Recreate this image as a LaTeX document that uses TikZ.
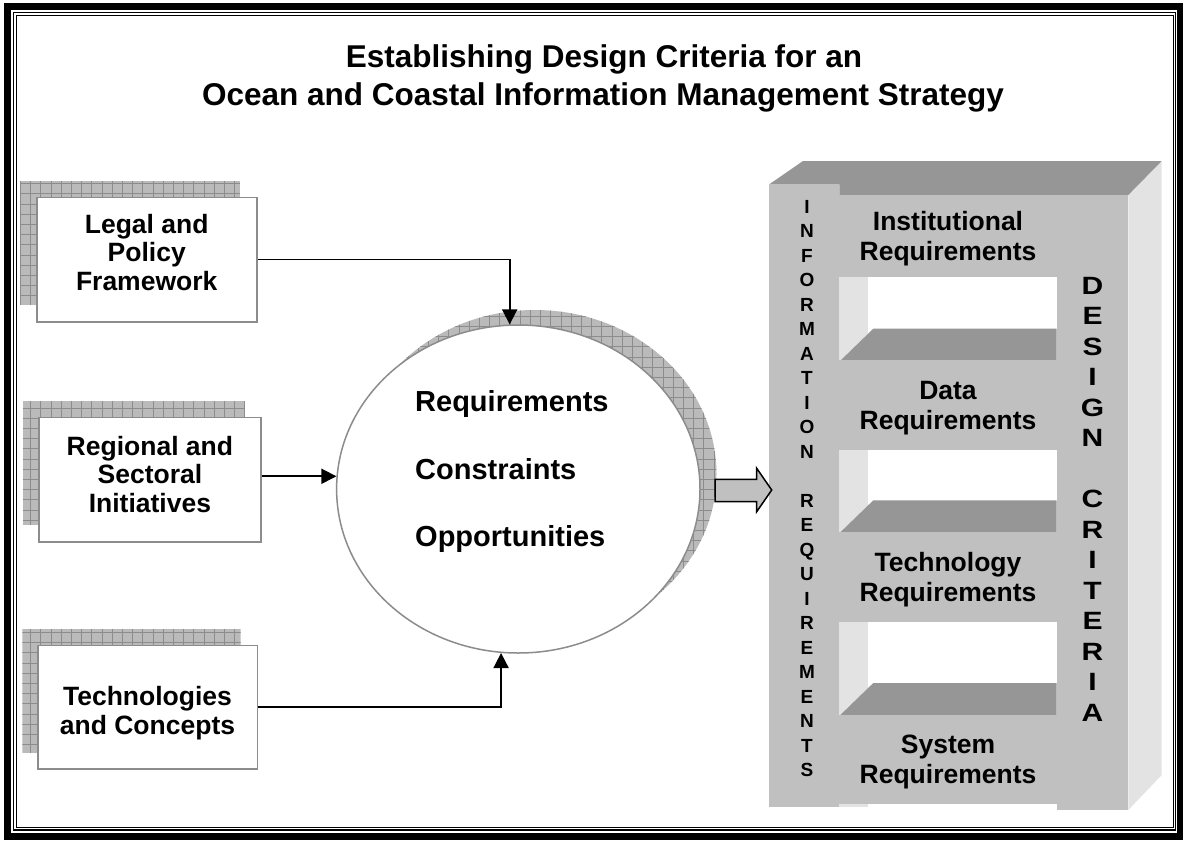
\documentclass[tikz,border=0pt]{standalone}
\usepackage{fontspec}
\setmainfont{Liberation Sans}
\usetikzlibrary{arrows.meta,shapes.geometric}
\definecolor{frontc}{RGB}{192,192,192}
\definecolor{topc}{RGB}{150,150,150}
\definecolor{sidec}{RGB}{227,227,227}
\definecolor{shadc}{RGB}{186,186,186}
\definecolor{shadline}{RGB}{140,140,140}
\definecolor{edgec}{RGB}{140,140,140}
\newcommand\gridfill[4]{%
    \fill[shadc] (#1,#2) rectangle (#3,#4);
    \foreach \g in {0,10.2,...,1190}{\draw[shadline, line width=0.7pt] (\g,#2) -- (\g,#4);}
    \foreach \g in {0,10.2,...,850}{\draw[shadline, line width=0.7pt] (#1,\g) -- (#3,\g);}}
\newcommand\mkshadow[4]{%
  \begin{scope}
    \clip (#1,#2) rectangle (#3,#4);
    \gridfill{#1}{#2}{#3}{#4}
  \end{scope}}
\begin{document}
\begin{tikzpicture}[x=1pt,y=-1pt,
  boxstyle/.style={draw=edgec, line width=1.6pt, fill=white, inner sep=0pt},
  boxtext/.style={font=\fontsize{26.5}{28.5}\selectfont\bfseries, align=center, text depth=0pt, inner sep=0pt},
  ovaltext/.style={font=\fontsize{29}{34}\selectfont\bfseries, anchor=base west, inner sep=0pt},
  slab/.style={fill=frontc, inner sep=0pt, font=\fontsize{26.5}{30}\selectfont\bfseries, align=center, text depth=0pt},
  letterA/.style={font=\fontsize{19}{20}\selectfont\bfseries, anchor=base, inner sep=0pt},
  letterB/.style={font=\fontsize{25}{26}\selectfont\bfseries, anchor=base, inner sep=0pt},
  conn/.style={draw=black, line width=1.8pt, -{Triangle[width=15pt,length=15pt]}},
  titlestyle/.style={font=\fontsize{31.5}{37}\selectfont\bfseries, anchor=base, inner sep=0pt}
]
\useasboundingbox (0,0) rectangle (1183,841);
\fill[white] (0,0) rectangle (1183,841);

% frame
\draw[line width=6.5pt] (7.5,6.7) rectangle (1180.5,836.5);
\draw[line width=1.2pt] (13.8,12.8) rectangle (1175.5,830);
\draw[line width=1pt] (16.3,15.5) rectangle (1173,827.3);

% title
\node[titlestyle] (title1) at (604,67.7) {Establishing Design Criteria for an};
\node[titlestyle] (title2) at (603,105) {Ocean and Coastal Information Management Strategy};

% left boxes with shadows
\mkshadow{20.2}{181}{240.2}{305.3}
\node[boxstyle, minimum width=220, minimum height=124.4] (legal) at (146.7,259.5) {};
\node[boxtext] (legalT) at (146.7,252) {Legal and\\Policy\\Framework};

\mkshadow{22.7}{401}{245}{525}
\node[boxstyle, minimum width=221.7, minimum height=124.4] (regional) at (149.9,479.5) {};
\node[boxtext] (regionalT) at (149.9,474) {Regional and\\Sectoral\\Initiatives};

\mkshadow{22.3}{629.3}{240.7}{752.7}
\node[boxstyle, minimum width=219.6, minimum height=123.3] (tech) at (147.5,707.3) {};
\node[boxtext] (techT) at (147.5,710.3) {Technologies\\and Concepts};

% oval with shadow
\begin{scope}
  \clip (534.8,474) ellipse [x radius=181.7, y radius=164];
  \gridfill{340}{300}{730}{650}
\end{scope}
\node[ellipse, draw=edgec, fill=white, line width=1.5pt, minimum width=363.4, minimum height=328, inner sep=0pt] (circ) at (518.3,489) {};
\node[ovaltext] (o1) at (415,411.7) {Requirements};
\node[ovaltext] (o2) at (415,479.3) {Constraints};
\node[ovaltext] (o3) at (415,546.7) {Opportunities};

% connectors
\draw[conn] (legal.east) -| (circ.93.6);
\draw[conn] (circ.176 -| regional.east) -- (circ.176);
\draw[conn] (tech.east) -| (circ.264.8);

% right structure
\fill[sidec] (1128.3,195) -- (1161.7,161) -- (1161.7,775) -- (1128.3,810) -- cycle;
\fill[topc] (769.3,184.3) -- (803,161) -- (1161.7,161) -- (1128.3,195) -- (839.3,195) -- (839.3,184.3) -- cycle;
\fill[frontc] (769.3,184.3) rectangle (839.3,807.3);
\fill[sidec] (839.3,195) rectangle (868.3,807.3);
\fill[frontc] (1056.7,195) rectangle (1128.3,810);

\foreach \yt in {361.7,533.3,716}{
  \fill[topc] (839.3,\yt) -- (873.3,\yt-33) -- (1056.7,\yt-33) -- (1056.7,\yt) -- cycle;
}
\node[slab, minimum width=217.4, minimum height=81.7] (inst) at (948,235.9) {Institutional\\Requirements};
\node[slab, minimum width=217.4, minimum height=89.3] (data) at (948,405) {Data\\Requirements};
\node[slab, minimum width=217.4, minimum height=90] (techr) at (948,577) {Technology\\Requirements};
\node[slab, minimum width=217.4, minimum height=89] (sysr) at (948,759) {System\\Requirements};

\foreach \l [count=\i from 0] in {I,N,F,O,R,M,A,T,I,O,N}{
  \node[letterA] (inf\i) at (807,213+24.5*\i) {\l};
}
\foreach \l [count=\i from 12] in {R,E,Q,U,I,R,E,M,E,N,T,S}{
  \node[letterA] (inf\i) at (807,213+24.5*\i) {\l};
}
\foreach \l [count=\i from 0] in {D,E,S,I,G,N}{
  \node[letterB] (des\i) at (1092.5,294+30.5*\i) {\scalebox{1.2}[1]{\l}};
}
\foreach \l [count=\i from 7] in {C,R,I,T,E,R,I,A}{
  \node[letterB] (des\i) at (1092.5,294+30.5*\i) {\scalebox{1.2}[1]{\l}};
}

% block arrow
\coordinate (barrow) at (715,490);
\draw[fill=frontc, line width=1.5pt, line join=miter, shift={(barrow)}]
  (0,-10.7) -- (41.7,-10.7) -- (41.7,-21.7) -- (56.7,0) -- (41.7,21.7) -- (41.7,11.7) -- (0,11.7) -- cycle;
\end{tikzpicture}
\end{document}
